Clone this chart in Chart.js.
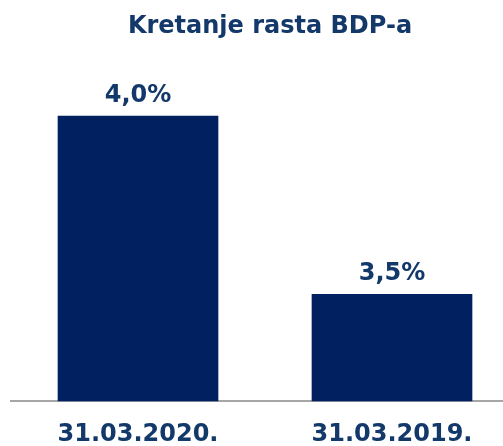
<!DOCTYPE html>
<html>
<head>
<meta charset="utf-8">
<script src="https://cdn.jsdelivr.net/npm/chart.js@4"></script>
<style>
  html, body { margin: 0; padding: 0; background: #ffffff; }
  #wrap { width: 503px; height: 446px; }
</style>
</head>
<body>
<div id="wrap"><canvas id="c" width="503" height="446"></canvas></div>
<script>
const title = 'Kretanje rasta BDP-a';
const categories = ['31.03.2020.', '31.03.2019.'];
const values = [4.0, 3.5];
const valueLabels = ['4,0%', '3,5%'];

const textColor = '#13386A';
const barColor = '#002060';
const fontFamily = '"DejaVu Sans", Verdana, sans-serif';

const points = values.map((v, i) => ({ x: i, y: v }));

const titlePlugin = {
  id: 'customTitle',
  afterDraw(chart) {
    const ctx = chart.ctx;
    ctx.save();
    ctx.fillStyle = textColor;
    ctx.font = 'bold 24px ' + fontFamily;
    ctx.textAlign = 'center';
    ctx.textBaseline = 'alphabetic';
    ctx.fillText(title, 270, 33);
    ctx.restore();
  }
};

const valuePlugin = {
  id: 'valueLabels',
  afterDatasetsDraw(chart) {
    const ctx = chart.ctx;
    const meta = chart.getDatasetMeta(0);
    ctx.save();
    ctx.fillStyle = textColor;
    ctx.font = 'bold 24px ' + fontFamily;
    ctx.textAlign = 'center';
    ctx.textBaseline = 'alphabetic';
    meta.data.forEach((bar, i) => {
      ctx.fillText(valueLabels[i], bar.x, bar.y - 14);
    });
    ctx.restore();
  }
};

new Chart(document.getElementById('c'), {
  type: 'bar',
  data: {
    datasets: [{
      data: points,
      backgroundColor: barColor,
      borderWidth: 0,
      barThickness: 160
    }]
  },
  options: {
    responsive: false,
    animation: false,
    layout: { padding: { left: 11, right: 0, top: 0, bottom: -22 } },
    plugins: {
      legend: { display: false },
      title: { display: false },
      tooltip: { enabled: false }
    },
    scales: {
      x: {
        type: 'linear',
        min: -0.5,
        max: 1.437,
        offset: false,
        afterBuildTicks(scale) {
          scale.ticks = categories.map((_, i) => ({ value: i }));
        },
        grid: { display: false, drawTicks: false },
        border: { display: true, color: '#A6A6A6', width: 2 },
        ticks: {
          color: textColor,
          font: { family: fontFamily, size: 24, weight: 'bold', lineHeight: 1.2 },
          padding: 19,
          maxRotation: 0,
          autoSkip: false,
          callback: (v) => categories[v] ?? ''
        }
      },
      y: {
        display: false,
        min: 3.2,
        max: 4.3256
      }
    }
  },
  plugins: [titlePlugin, valuePlugin]
});
</script>
</body>
</html>
